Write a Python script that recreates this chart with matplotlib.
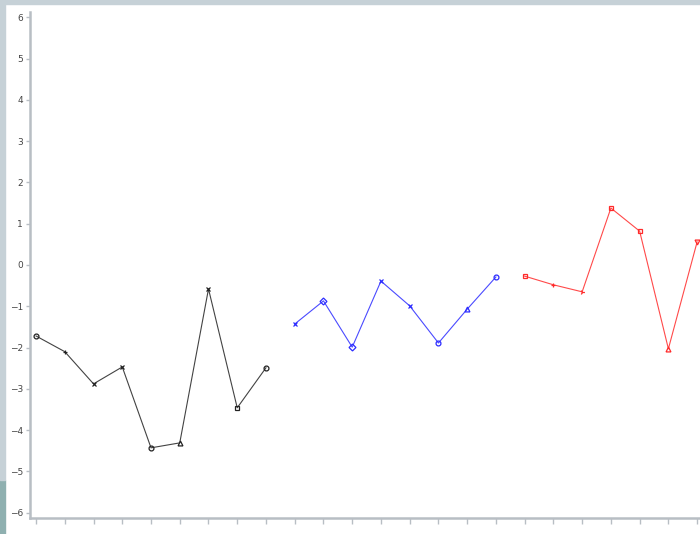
import matplotlib
matplotlib.use("Agg")
import matplotlib.pyplot as plt
from matplotlib.patches import Rectangle

black_x = [0, 1, 2, 3, 4, 5, 6, 7, 8]
black_y = [-1.72, -2.10, -2.88, -2.47, -4.43, -4.31, -0.58, -3.46, -2.49]
blue_x = [9, 10, 11, 12, 13, 14, 15, 16]
blue_y = [-1.43, -0.87, -1.99, -0.39, -0.99, -1.89, -1.07, -0.29]
red_x = [17, 18, 19, 20, 21, 22, 23]
red_y = [-0.27, -0.48, -0.65, 1.38, 0.82, -2.03, 0.56]
y_ticks = [6, 5, 4, 3, 2, 1, 0, -1, -2, -3, -4, -5, -6]
x_ticks = list(range(0, 24))

black_markers = ['o', '+', 'x', 'x', 'o', '^', 'x', 's', 'o']
blue_markers = ['x', 'D', 'D', 'x', 'x', 'o', '^', 'o']
red_markers = ['s', '+', '4', 's', 's', '^', 'v']

fig = plt.figure(figsize=(7.0, 5.34), dpi=100)
W, H = 700, 534
ax = fig.add_axes([30 / W, (H - 518) / H, (W - 30) / W, (518 - 12) / H])

def draw(xs, ys, color, markers):
    ax.plot(xs, ys, color=color, lw=0.8, alpha=0.85, zorder=2)
    for x, y, m in zip(xs, ys, markers):
        ax.plot([x], [y], marker=m, ms=3.5, mfc='none', mec=color, mew=0.9,
                ls='none', zorder=3)

draw(black_x, black_y, '#222222', black_markers)
draw(blue_x, blue_y, '#2b2bff', blue_markers)
draw(red_x, red_y, '#ff2a2a', red_markers)

ax.set_xlim(-0.21, 23.1)
ax.set_ylim(-6.13, 6.13)
ax.set_yticks(y_ticks)
ax.set_yticklabels([str(t).replace('-', '\u2212') for t in y_ticks], fontsize=6.5)
ax.set_xticks(x_ticks)
ax.set_xticklabels([])
for s in ['top', 'right']:
    ax.spines[s].set_visible(False)
for s in ['left', 'bottom']:
    ax.spines[s].set_color('#b8bec4')
    ax.spines[s].set_linewidth(1.8)
ax.tick_params(axis='both', colors='#b8bec4', length=4, width=1, labelcolor='#444444')
ax.tick_params(axis='y', pad=2, length=3)

# screenshot border strips
fig.patches.append(Rectangle((0, 0), 5 / W, (H - 480) / H, transform=fig.transFigure,
                             color='#8fb0b0', zorder=0))
fig.patches.append(Rectangle((0, (H - 480) / H), 5 / W, 480 / H, transform=fig.transFigure,
                             color='#c6d1d7', zorder=0))
fig.patches.append(Rectangle((0, (H - 4) / H), 1, 4 / H, transform=fig.transFigure,
                             color='#c6d1d7', zorder=0))

fig.savefig("out.png", dpi=100)
